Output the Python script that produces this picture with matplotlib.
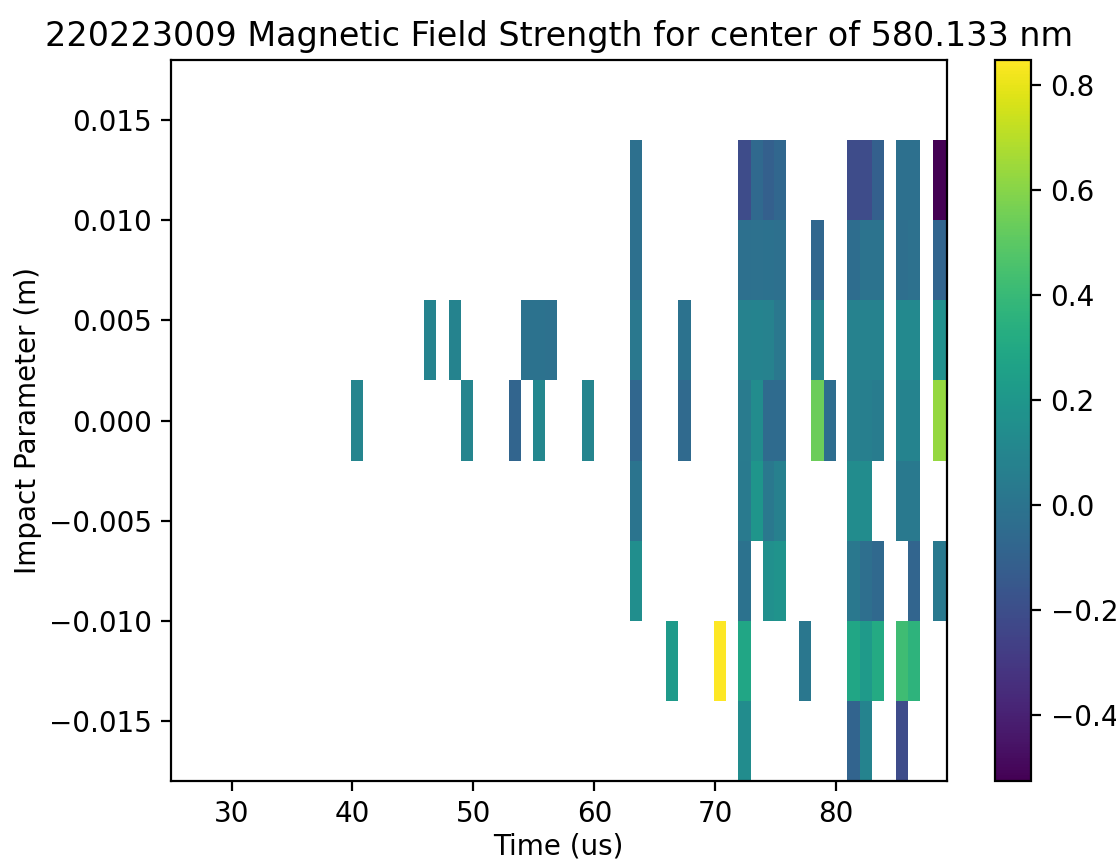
import numpy as np
import matplotlib
matplotlib.use('Agg')
from matplotlib import pyplot as plt

n = np.nan

# time of every frame (us), centre of each column
times = [25.48, 26.45, 27.45, 28.45, 29.45, 30.45, 31.45, 32.45, 33.45, 34.45,
         35.45, 36.45, 37.45, 38.45, 39.44, 40.40, 41.42, 42.45, 43.45, 44.45,
         45.42, 46.38, 47.42, 48.47, 49.44, 50.44, 51.45, 52.48, 53.49, 54.45,
         55.42, 56.38, 57.41, 58.47, 59.47, 60.45, 61.45, 62.48, 63.48, 64.46,
         65.43, 66.39, 67.44, 68.48, 69.45, 70.42, 71.39, 72.44, 73.48, 74.42,
         75.37, 76.38, 77.43, 78.48, 79.46, 80.43, 81.42, 82.48, 83.50, 84.48,
         85.44, 86.40, 87.46, 88.57]

impact = [-0.016, -0.012, -0.008, -0.004, 0.0, 0.004, 0.008, 0.012, 0.016]

# frames that have a measurement
active = [40.40, 46.38, 48.47, 49.44, 53.49, 54.45, 55.42, 56.38, 59.47, 63.48,
          66.39, 67.44, 70.42, 72.44, 73.48, 74.42, 75.37, 77.43, 78.48, 79.46,
          81.42, 82.48, 83.50, 85.44, 86.40, 88.57]

# field strength per impact parameter row, one value per active frame
b_p012 = [n, n, n, n, n, n, n, n, n, -0.025, n, n, n, -0.21, -0.06, -0.11, -0.07,
          n, n, n, -0.21, -0.21, -0.11, -0.025, -0.025, -0.525]
b_p008 = [n, n, n, n, n, n, n, n, n, -0.025, n, n, n, -0.025, -0.02, -0.015, -0.025,
          n, -0.07, n, -0.04, 0.0, 0.0, -0.03, -0.02, -0.08]
b_p004 = [n, 0.09, 0.09, n, n, -0.01, -0.01, -0.02, n, 0.025, n, -0.005, n, 0.085, 0.09,
          0.08, 0.025, n, 0.09, n, 0.08, 0.08, 0.08, 0.12, 0.12, 0.16]
b_0 = [0.10, n, n, 0.10, -0.08, n, 0.11, n, 0.10, -0.07, n, -0.055, n, 0.04, 0.14,
       -0.05, -0.05, n, 0.54, -0.04, 0.07, 0.06, 0.045, 0.09, 0.09, 0.63]
b_m004 = [n, n, n, n, n, n, n, n, n, 0.005, n, n, n, 0.035, 0.19, 0.025, 0.07,
          n, n, n, 0.14, 0.14, n, 0.03, 0.03, n]
b_m008 = [n, n, n, n, n, n, n, n, n, 0.15, n, n, n, -0.01, n, 0.16, 0.18,
          n, n, n, 0.025, -0.03, -0.06, n, -0.08, 0.03]
b_m012 = [n, n, n, n, n, n, n, n, n, n, 0.22, n, 0.848, 0.29, n, n, n,
          0.02, n, n, 0.29, 0.22, 0.31, 0.42, 0.36, n]
b_m016 = [n, n, n, n, n, n, n, n, n, n, n, n, n, 0.14, n, n, n,
          n, n, n, -0.09, 0.09, n, -0.21, n, n]

rows = [b_m016, b_m012, b_m008, b_m004, b_0, b_p004, b_p008, b_p012]

grid = np.full((len(impact), len(times)), np.nan)
for r, vals in enumerate(rows):
    for t, v in zip(active, vals):
        grid[r, times.index(t)] = v

fig = plt.figure(figsize=(1116 / 200, 865 / 200), dpi=200)
ax = fig.add_axes([0.1532, 0.0971, 0.695, 0.8335])
cax = fig.add_axes([0.8916, 0.0971, 0.0323, 0.8335])

mesh = ax.pcolormesh(times, impact, np.ma.masked_invalid(grid), shading='nearest', cmap='viridis')
fig.colorbar(mesh, cax=cax)

ax.set_title('220223009 Magnetic Field Strength for center of 580.133 nm', pad=5)
ax.set_xlabel('Time (us)', labelpad=1.5)
ax.set_ylabel('Impact Parameter (m)', labelpad=2.5)

fig.savefig('out.png', dpi=200)
